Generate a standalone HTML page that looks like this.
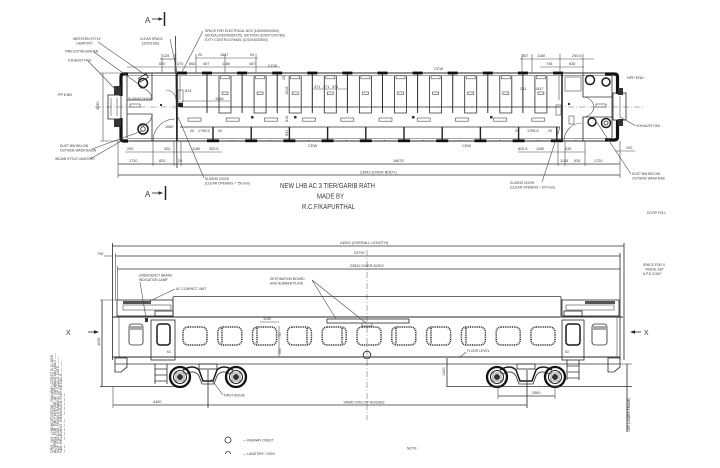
<!DOCTYPE html>
<html><head><meta charset="utf-8">
<style>
html,body{margin:0;padding:0;background:#fff;}
svg{display:block}
.l{stroke:#333;stroke-width:.85;fill:none}
.h{stroke:#1a1a1a;stroke-width:1.5;fill:none}
.k{stroke:#111;stroke-width:3.2;fill:none;stroke-linejoin:round}
.d{stroke:#4a4a4a;stroke-width:.6;fill:none}
.c{stroke:#666;stroke-width:.55;fill:none;stroke-dasharray:6 2 1 2}
.w{stroke:#2a2a2a;stroke-width:1.5;fill:none;stroke-dasharray:1 .8}
text{font-family:"Liberation Sans",sans-serif;fill:#3a3a3a}
.t{font-size:3.8px}
.s{font-size:3.3px}
</style></head>
<body>
<svg width="720" height="468" viewBox="0 0 720 468" xmlns="http://www.w3.org/2000/svg">
<defs>
<g id="bay">
 <rect x="-5" y="71.6" width="10" height="2.8" fill="#111"/>
 <line x1="0" y1="74" x2="0" y2="113" stroke="#2a2a2a" stroke-width="1"/>
 <path d="M12 76 V113 H24 V76" class="l"/>
 <rect x="13.5" y="75.8" width="9" height="3" class="d"/>
 <rect x="15" y="92" width="6" height="2.5" class="d"/>
</g>
<g id="sbay">
 <rect x="-6" y="139.4" width="12" height="2.8" fill="#111"/>
 <line x1="0" y1="127" x2="0" y2="140" stroke="#222" stroke-width="1.4"/>
 <rect x="-25" y="118" width="13" height="3.2" class="d"/>
 <circle cx="19" cy="140.7" r=".7" fill="#444"/>
</g>
<g id="win">
 <rect x="-12" y="327" width="24" height="18" rx="5" class="w"/>
</g>
<g id="wheel">
 <circle r="10" fill="none" stroke="#111" stroke-width="2.3"/>
 <circle r="6.5" fill="none" stroke="#222" stroke-width="1.1"/>
 <circle r="3" fill="#333"/>
 <rect x="-4" y="-4" width="8" height="8" fill="none" stroke="#444" stroke-width=".6"/>
</g>
</defs>

<!-- ================= PLAN VIEW ================= -->
<text x="145" y="23" font-size="8">A</text>
<line x1="152" y1="19" x2="162" y2="19" class="l"/>
<polygon points="163,19 158.5,17.3 158.5,20.7" fill="#333"/>
<line x1="164.5" y1="12" x2="164.5" y2="26" stroke="#222" stroke-width="1.5"/>
<text x="145" y="197" font-size="8">A</text>
<line x1="152" y1="193" x2="162" y2="193" class="l"/>
<polygon points="163,193 158.5,191.3 158.5,194.7" fill="#333"/>
<line x1="165.5" y1="186" x2="165.5" y2="200" stroke="#222" stroke-width="1.5"/>
<line x1="175.5" y1="36" x2="177" y2="168" class="l"/>

<line x1="125" y1="73" x2="614" y2="73" stroke="#2a2a2a" stroke-width="1"/>
<line x1="127" y1="75.5" x2="612" y2="75.5" class="d"/>
<line x1="125" y1="141" x2="614" y2="141" stroke="#2a2a2a" stroke-width="1"/>
<line x1="127" y1="138.5" x2="612" y2="138.5" class="d"/>
<line x1="95" y1="107" x2="645" y2="107" class="c"/>
<line x1="180" y1="107" x2="560" y2="107" class="l"/>
<line x1="180" y1="127" x2="560" y2="127" class="l"/>

<rect x="177" y="71.6" width="10" height="2.8" fill="#111"/>
<use href="#bay" x="207"/><use href="#bay" x="242.1"/><use href="#bay" x="277.2"/>
<use href="#bay" x="312.3"/><use href="#bay" x="347.4"/><use href="#bay" x="382.5"/>
<use href="#bay" x="417.6"/><use href="#bay" x="452.7"/><use href="#bay" x="487.8"/>
<use href="#bay" x="522.9"/>
<rect x="553" y="71.6" width="10" height="2.8" fill="#111"/>
<use href="#sbay" x="213"/><use href="#sbay" x="251.2"/><use href="#sbay" x="289.4"/>
<use href="#sbay" x="327.6"/><use href="#sbay" x="365.8"/><use href="#sbay" x="404"/>
<use href="#sbay" x="442.2"/><use href="#sbay" x="480.4"/><use href="#sbay" x="518.6"/>
<use href="#sbay" x="556.8"/>
<rect x="251" y="116" width="2.5" height="2.5" fill="#333"/>
<rect x="294" y="116" width="2.5" height="2.5" fill="#333"/>
<rect x="412" y="116" width="2.5" height="2.5" fill="#333"/>
<rect x="490" y="116" width="2.5" height="2.5" fill="#333"/>

<line x1="177" y1="73" x2="177" y2="141" stroke="#1a1a1a" stroke-width="1.5"/>
<line x1="180" y1="76" x2="180" y2="100" class="d"/>
<line x1="562" y1="73" x2="562" y2="141" stroke="#1a1a1a" stroke-width="1.5"/>
<line x1="559" y1="76" x2="559" y2="100" class="d"/>
<rect x="178" y="90" width="5" height="12" class="d"/>
<rect x="178" y="103" width="5" height="4" fill="#222"/>
<rect x="556" y="105" width="5" height="10" class="d"/>

<path d="M128 74 H123.5 Q121 74 121 77 V96" class="k"/>
<path d="M121 118 V138 Q121 141 123.5 141 H128" class="k"/>
<rect x="114" y="86" width="7" height="9" fill="#333"/>
<rect x="114" y="119" width="7" height="8" fill="#333"/>
<rect x="108" y="95" width="13" height="24" class="l"/>
<line x1="111" y1="98" x2="111" y2="116" class="d"/>
<line x1="117" y1="98" x2="117" y2="116" class="d"/>
<path d="M127 100 H152 V73 M127 114 H152 V141" class="l"/>
<line x1="127" y1="76" x2="127" y2="138" class="l"/>
<circle cx="143" cy="83" r="4.5" class="h"/>
<rect x="139" y="76" width="9" height="4" class="l" transform="rotate(-30 143 78)"/>
<circle cx="143" cy="129" r="5" class="h"/>
<circle cx="143" cy="129" r="2.3" class="l"/>
<path d="M152 100 A12 12 0 0 0 140 88" class="d"/>
<path d="M152 114 A12 12 0 0 1 140 126" class="d"/>
<path d="M153 141 A22 22 0 0 1 175 119" class="d"/>
<path d="M176 100 A10 10 0 0 0 166 90" class="d"/>
<rect x="130" y="104" width="10" height="3" class="d"/>
<rect x="160" y="104" width="2" height="2" fill="#333"/>
<text class="s" x="128" y="100">SLIDING DOOR</text>

<path d="M605 74 H614.5 Q617.5 74 617.5 77 V94" class="k"/>
<path d="M617.5 120 V137 Q617.5 140 614.5 140 H605" class="k"/>
<rect x="618" y="88" width="5" height="7" fill="#333"/>
<rect x="618" y="119" width="5" height="7" fill="#333"/>
<rect x="613" y="93" width="13" height="27" class="l"/>
<line x1="620" y1="96" x2="620" y2="117" class="d"/>
<path d="M583 73 V97 H612 M583 141 V117 H612" class="l"/>
<line x1="612" y1="76" x2="612" y2="138" class="l"/>
<circle cx="590" cy="80" r="4.5" class="h"/>
<circle cx="606" cy="82" r="4" class="h"/>
<circle cx="592" cy="122" r="4" class="h"/>
<circle cx="606" cy="123" r="4.5" class="h"/>
<circle cx="606" cy="123" r="2" class="l"/>
<path d="M583 97 A11 11 0 0 1 594 108" class="d"/>
<path d="M583 117 A11 11 0 0 0 594 106" class="d"/>
<path d="M564 141 A18 18 0 0 1 582 123" class="d"/>
<rect x="565" y="77" width="16" height="14" class="d"/>
<rect x="596" y="104" width="10" height="3" class="d"/>
<rect x="568" y="103" width="2" height="2" fill="#333"/>
<rect x="569" y="116" width="5" height="8" class="d"/>

<line x1="127" y1="67" x2="280" y2="67" class="d"/>
<line x1="195" y1="58" x2="258" y2="58" class="d"/>
<line x1="160" y1="59" x2="175" y2="59" class="d"/>
<text class="t" x="159" y="65">820</text><text class="t" x="177" y="65">470</text>
<text class="t" x="189" y="65">860</text><text class="t" x="203" y="65">457</text>
<text class="t" x="222" y="65">1180</text><text class="t" x="249" y="65">457</text>
<text class="t" x="268" y="67">CCW</text>
<text class="t" x="163" y="57">125</text>
<text class="t" x="198" y="56">20</text><text class="t" x="220" y="56">1647</text><text class="t" x="250" y="56">20</text>
<text class="t" x="283" y="78" transform="rotate(-90 285 78)">25</text>
<text class="t" x="434" y="70">CCW</text>
<line x1="520" y1="59" x2="594" y2="59" class="d"/>
<line x1="540" y1="67" x2="584" y2="67" class="d"/>
<text class="t" x="522" y="57">287</text><text class="t" x="537" y="57">1180</text><text class="t" x="572" y="57">250.5</text>
<text class="t" x="546" y="65">745</text><text class="t" x="569" y="65">635</text>
<line x1="522" y1="54" x2="522" y2="73" class="d"/><line x1="532" y1="54" x2="532" y2="73" class="d"/>
<line x1="560" y1="54" x2="560" y2="73" class="d"/><line x1="583" y1="54" x2="583" y2="73" class="d"/>
<line x1="162" y1="54" x2="162" y2="73" class="d"/><line x1="175" y1="54" x2="175" y2="73" class="d"/>
<line x1="196" y1="54" x2="196" y2="73" class="d"/><line x1="256" y1="54" x2="256" y2="73" class="d"/>
<line x1="225" y1="54" x2="225" y2="73" class="d"/>
<text class="t" x="314" y="88">371</text><text class="t" x="323" y="88">371</text><text class="t" x="332" y="88">371</text>
<line x1="312" y1="89" x2="348" y2="89" class="d"/>
<text class="t" x="185" y="92">813</text><text class="t" x="215" y="100">1548</text>
<line x1="182" y1="101" x2="230" y2="101" class="d"/>
<text class="t" x="520" y="90">231</text><text class="t" x="535" y="90">1547</text>
<text class="t" x="288" y="95" transform="rotate(-90 288 95)">1518</text>
<text class="t" x="288" y="122" transform="rotate(-90 288 122)">616</text>
<text class="t" x="288" y="136" transform="rotate(-90 288 136)">531</text>
<text class="t" x="165" y="128">1080</text>
<text class="t" x="198" y="132">1795.5</text><text class="t" x="218" y="132">20</text>
<text class="t" x="190" y="132">20</text>
<text class="t" x="515" y="132">20</text><text class="t" x="527" y="132">1795.5</text><text class="t" x="548" y="132">20</text>
<text class="t" x="308" y="147">CDW</text><text class="t" x="462" y="147">CDW</text>

<line x1="125" y1="152" x2="222" y2="152" class="d"/>
<text class="t" x="127" y="150">200</text><text class="t" x="164" y="150">320</text>
<text class="t" x="192" y="150">1180</text><text class="t" x="209" y="150">325.5</text>
<line x1="518" y1="152" x2="585" y2="152" class="d"/>
<text class="t" x="518" y="150">825.5</text><text class="t" x="536" y="150">1180</text><text class="t" x="565" y="150">635</text>
<text class="t" x="626" y="149">200</text>
<line x1="615" y1="151" x2="635" y2="151" class="d"/>

<line x1="118" y1="164" x2="620" y2="164" class="l"/>
<text class="t" x="129" y="162">1720</text><text class="t" x="159" y="162">820</text><text class="t" x="178" y="162">20</text>
<text class="t" x="393" y="162">16675</text>
<text class="t" x="560" y="162">1145</text><text class="t" x="574" y="162">635</text><text class="t" x="594" y="162">1720</text>
<line x1="118" y1="175" x2="620" y2="175" class="l"/>
<text class="t" x="360" y="173.5">23542 (OVER BODY)</text>
<line x1="118" y1="141" x2="118" y2="178" class="d"/>
<line x1="620" y1="141" x2="620" y2="178" class="d"/>
<line x1="153" y1="141" x2="153" y2="166" class="d"/>
<line x1="174" y1="141" x2="174" y2="166" class="d"/>
<line x1="181" y1="141" x2="181" y2="166" class="d"/>
<line x1="558" y1="141" x2="558" y2="166" class="d"/>
<line x1="565" y1="141" x2="565" y2="166" class="d"/>
<line x1="585" y1="141" x2="585" y2="166" class="d"/>
<line x1="103" y1="73" x2="103" y2="141" class="d"/>
<line x1="100" y1="73" x2="121" y2="73" class="d"/>
<line x1="100" y1="141" x2="121" y2="141" class="d"/>
<text class="t" x="99" y="110" transform="rotate(-90 99 110)">3030</text>

<text class="t" x="58" y="96" font-size="5">PP END</text>
<text class="t" x="627" y="79" font-size="5">NPP END</text>
<text class="s" x="73" y="40">WESTERN STYLE</text><text class="s" x="76" y="44.5">LAVATORY</text>
<line x1="98" y1="42" x2="147" y2="76" class="d"/>
<text class="s" x="65" y="52.5">FIRE EXTINGUISHER</text>
<line x1="94" y1="52" x2="144" y2="88" class="d"/>
<text class="s" x="68" y="61.5">EXHAUST FAN</text>
<line x1="88" y1="61" x2="116" y2="90" class="d"/>
<text class="s" x="140" y="40">CLEAR SPACE</text><text class="s" x="142" y="44.5">(303X1930)</text>
<line x1="170" y1="39" x2="177" y2="72" class="d"/>
<text class="s" x="205" y="32">SPACE FOR ELECTRICAL BOX (1000X600X500),</text>
<text class="s" x="205" y="36.5">SKODA (1050X635X270), SIETRON (1050X720X780),</text>
<text class="s" x="205" y="41">EXTY CONTROL PANEL (1010X400X500)</text>
<line x1="203" y1="31" x2="182" y2="72" class="d"/>
<text class="s" x="60" y="147">DUST BIN BELOW</text><text class="s" x="60" y="151.5">OUTSIDE WASH BASIN</text>
<line x1="92" y1="149" x2="142" y2="131" class="d"/>
<text class="s" x="55" y="160">INDIAN STYLE LAVATORY</text>
<line x1="90" y1="159" x2="125" y2="139" class="d"/>
<text class="s" x="205" y="180">SLIDING DOOR</text><text class="s" x="205" y="184.5">(CLEAR OPENING = 750 mm)</text>
<line x1="204" y1="178" x2="178" y2="117" class="d"/>
<text class="s" x="637" y="127">EXHAUST FAN</text>
<line x1="636" y1="126" x2="620" y2="117" class="d"/>
<text class="s" x="632" y="175">DUST BIN BELOW</text><text class="s" x="632" y="179.5">OUTSIDE WASH BAS</text>
<line x1="631" y1="174" x2="594" y2="118" class="d"/>
<text class="s" x="510" y="184">SLIDING DOOR</text><text class="s" x="510" y="188.5">(CLEAR OPENING = 570 mm)</text>
<line x1="542" y1="182" x2="560" y2="127" class="d"/>
<text class="s" x="647" y="214">DOOR FOLL</text>

<text x="280" y="188" font-size="7" textLength="95" lengthAdjust="spacingAndGlyphs" fill="#333">NEW LHB AC 3 TIER/GARIB RATH</text>
<text x="317" y="198.5" font-size="7" textLength="27" lengthAdjust="spacingAndGlyphs" fill="#333">MADE BY</text>
<text x="302" y="209" font-size="7" textLength="53" lengthAdjust="spacingAndGlyphs" fill="#333">R.C.F/KAPURTHAL</text>

<!-- ================= SIDE VIEW ================= -->
<line x1="112" y1="246" x2="624" y2="246" class="l"/>
<text class="t" x="340" y="244">24002 (OVERALL LENGTH)</text>
<line x1="115" y1="256" x2="620" y2="256" class="l"/>
<text class="t" x="354" y="254">23700</text>
<text class="t" x="97" y="255">735</text>
<line x1="104" y1="256" x2="112" y2="256" class="d"/>
<line x1="117" y1="269" x2="620" y2="269" class="l"/>
<text class="t" x="350" y="267">23542 OVER BODY</text>
<line x1="112.5" y1="243" x2="112.5" y2="360" class="l"/>
<line x1="115.5" y1="253" x2="115.5" y2="300" class="d"/>
<line x1="117.5" y1="266" x2="117.5" y2="300" class="d"/>
<line x1="624" y1="243" x2="624" y2="360" class="l"/>
<line x1="620" y1="253" x2="620" y2="360" class="l"/>
<line x1="367" y1="250" x2="367" y2="420" class="c"/>

<line x1="173" y1="296.5" x2="561" y2="296.5" class="l"/>
<rect x="117" y="300" width="56" height="16" class="l"/>
<rect x="123" y="301" width="28" height="3" fill="#555"/>
<rect x="123" y="305" width="48" height="5" class="d"/>
<rect x="155" y="311" width="18" height="5" class="l"/>
<rect x="562" y="300" width="57" height="16" class="l"/>
<rect x="585" y="301" width="30" height="3" fill="#555"/>
<rect x="566" y="305" width="48" height="5" class="d"/>
<rect x="564" y="311" width="18" height="5" class="l"/>
<line x1="173" y1="297" x2="173" y2="316" class="l"/>
<line x1="561" y1="297" x2="561" y2="316" class="l"/>

<line x1="113" y1="317" x2="623" y2="317" stroke="#2a2a2a" stroke-width="1"/>
<line x1="113" y1="357" x2="620" y2="357" stroke="#2a2a2a" stroke-width="1"/>
<line x1="115" y1="364" x2="620" y2="364" class="l"/>
<line x1="119" y1="317" x2="119" y2="357" class="d"/>
<line x1="617" y1="317" x2="617" y2="357" class="d"/>
<path d="M115 358 H127 V367 L121 372 H115 Z" class="l"/>
<path d="M608 358 H620 V367 L614 372 H608 Z" class="l"/>

<rect x="151" y="320" width="24" height="40" class="l"/>
<rect x="157" y="324" width="13" height="21" rx="3" class="h" stroke-width="1"/>
<text class="s" x="167" y="353">63</text>
<rect x="129" y="324" width="14" height="21" rx="3" class="l" stroke-width="1"/>
<line x1="130" y1="327" x2="142" y2="327" class="l"/><line x1="130" y1="329" x2="142" y2="329" class="l"/>
<rect x="145" y="318" width="3" height="4" fill="#333"/>
<rect x="562" y="320" width="22" height="40" class="l"/>
<rect x="566" y="324" width="14" height="21" rx="3" class="h" stroke-width="1"/>
<text class="s" x="565" y="353">63</text>
<rect x="592" y="324" width="15" height="21" rx="3" class="l" stroke-width="1"/>
<line x1="593" y1="327" x2="606" y2="327" class="l"/><line x1="593" y1="329" x2="606" y2="329" class="l"/>

<use href="#win" x="195"/><use href="#win" x="229.8"/><use href="#win" x="264.6"/>
<use href="#win" x="299.4"/><use href="#win" x="334.2"/><use href="#win" x="369"/>
<use href="#win" x="403.8"/><use href="#win" x="438.6"/><use href="#win" x="473.4"/>
<use href="#win" x="508.2"/><use href="#win" x="543"/>
<line x1="222" y1="328" x2="222" y2="344" class="w"/>
<line x1="257" y1="328" x2="257" y2="344" class="w"/>
<line x1="307" y1="328" x2="307" y2="344" class="w"/>
<line x1="342" y1="328" x2="342" y2="344" class="w"/>
<line x1="396" y1="328" x2="396" y2="344" class="w"/>
<line x1="431" y1="328" x2="431" y2="344" class="w"/>
<line x1="466" y1="328" x2="466" y2="344" class="w"/>

<rect x="327" y="319" width="82" height="4" class="l"/>
<rect x="362" y="323" width="10" height="3" class="d"/>
<text class="s" x="270" y="280">DESTINATION BOARD</text><text class="s" x="270" y="284.5">AND NUMBER PLATE</text>
<line x1="312" y1="280" x2="336" y2="319" class="d"/>
<line x1="312" y1="280" x2="366" y2="323" class="d"/>

<line x1="260" y1="322" x2="279" y2="322" class="d"/>
<text class="t" x="263" y="320">1190</text>
<line x1="279" y1="326" x2="279" y2="357" class="d"/>
<text class="s" x="281" y="338" transform="rotate(-90 281 338)">750</text>
<text class="s" x="281" y="354" transform="rotate(-90 281 354)">600</text>
<circle cx="367" cy="355" r="3.8" class="l"/>

<path d="M155 364 V384 M167 364 V384 M155 369 H167 M155 375 H167 M155 381 H167" class="l"/>
<path d="M567 360 V380 M579 360 V380 M567 366 H579 M567 372 H579 M567 378 H579" class="l"/>

<path d="M183 370 Q193 364 199 370 L203 381 H213 L217 370 Q223 364 233 370" class="h" stroke-width="1.2"/>
<path d="M186 374 Q195 369 199 376 L202 384 H214 L217 376 Q221 369 230 374" class="l"/>
<rect x="199" y="364" width="18" height="5" class="l"/>
<use href="#wheel" x="180" y="377"/><use href="#wheel" x="236" y="377"/>
<path d="M500 370 Q510 364 516 370 L520 381 H532 L536 370 Q542 364 552 370" class="h" stroke-width="1.2"/>
<path d="M503 374 Q512 369 516 376 L519 384 H533 L536 376 Q540 369 549 374" class="l"/>
<rect x="517" y="364" width="18" height="5" class="l"/>
<use href="#wheel" x="497" y="377"/><use href="#wheel" x="555" y="377"/>

<line x1="100" y1="300" x2="118" y2="300" class="d"/>
<line x1="102" y1="300" x2="102" y2="387" class="l"/>
<line x1="100" y1="386.5" x2="175" y2="386.5" class="l"/>
<text class="t" x="100" y="346" transform="rotate(-90 100 346)">4039</text>
<line x1="113" y1="405" x2="527" y2="405" class="l"/>
<line x1="113" y1="386" x2="113" y2="408" class="d"/>
<line x1="208" y1="370" x2="208" y2="408" class="l"/>
<line x1="527" y1="370" x2="527" y2="408" class="l"/>
<text class="t" x="153" y="403">4400</text>
<text class="t" x="343" y="403.5">14900 CRS OF BOGIES</text>
<line x1="498" y1="396" x2="555" y2="396" class="l"/>
<line x1="498" y1="385" x2="498" y2="399" class="d"/>
<line x1="555" y1="385" x2="555" y2="399" class="d"/>
<text class="t" x="532" y="394">2560</text>
<line x1="447" y1="358" x2="447" y2="387" class="l"/>
<line x1="447" y1="386.5" x2="632" y2="386.5" class="l"/>
<text class="t" x="445" y="376" transform="rotate(-90 445 376)">1320</text>
<line x1="627" y1="364" x2="627" y2="432" class="l"/>
<line x1="620" y1="364" x2="632" y2="364" class="d"/>
<text class="s" x="630" y="432" transform="rotate(-90 630 432)">1165 (UNDER FRAME)</text>

<text class="s" x="139" y="276.5">EMERGENCY BRAKE</text><text class="s" x="139" y="281">INDICATION LAMP</text>
<line x1="140" y1="282" x2="146" y2="318" class="d"/>
<text class="s" x="176" y="290">AC COMPACT UNIT</text>
<line x1="175" y1="289" x2="150" y2="301" class="d"/>
<text class="s" x="224" y="396.5">FIRST BOGIE</text>
<line x1="223" y1="395" x2="211" y2="379" class="d"/>
<text class="s" x="467" y="352">FLOOR LEVEL</text>
<line x1="466" y1="352" x2="459" y2="358" class="d"/>
<text class="s" x="643" y="266">SPACE FOR X</text><text class="s" x="645" y="270.5">VIDEAL SET</text><text class="s" x="643" y="275">&amp; P.D CONT</text>

<text x="66" y="335" font-size="7">X</text>
<line x1="88" y1="332" x2="97" y2="332" class="l"/>
<polygon points="99,332 94,330.3 94,333.7" fill="#222"/>
<line x1="632" y1="332" x2="641" y2="332" class="l"/>
<polygon points="630,332 635,330.3 635,333.7" fill="#222"/>
<text x="644" y="335" font-size="7">X</text>

<g font-size="3.2" fill="#444">
<text x="0" y="0" transform="translate(53,453) rotate(-90)" textLength="98" lengthAdjust="spacingAndGlyphs">DRG. NO. LHB/AC3T/GR/00 - RAILWAY CREST &amp; CLASS</text>
<text x="0" y="0" transform="translate(56,453) rotate(-90)" textLength="100" lengthAdjust="spacingAndGlyphs">ALTERED: FOR THE PURPOSE OF INFORMATION ONLY -----</text>
<text x="0" y="0" transform="translate(59,453) rotate(-90)" textLength="96" lengthAdjust="spacingAndGlyphs">NOT PRECISE FROM DRAWING OF SCALE DATE ------</text>
<text x="0" y="0" transform="translate(62,453) rotate(-90)" textLength="92" lengthAdjust="spacingAndGlyphs">SEE RELEVANT DRAWINGS FOR DETAILS ---- ----</text>
<text x="0" y="0" transform="translate(65,453) rotate(-90)" textLength="60" lengthAdjust="spacingAndGlyphs">-- ----- -----</text>
</g>

<circle cx="228" cy="440" r="3" class="l"/>
<text class="s" x="243" y="441.5">— RAILWAY CREST</text>
<path d="M225.5 454 A2.5 2.5 0 0 1 230.5 454" class="l"/>
<text class="s" x="243" y="455">— LAVATORY / SIGN</text>
<text class="s" x="407" y="449.5">NOTE:-</text>
</svg>
</body></html>
